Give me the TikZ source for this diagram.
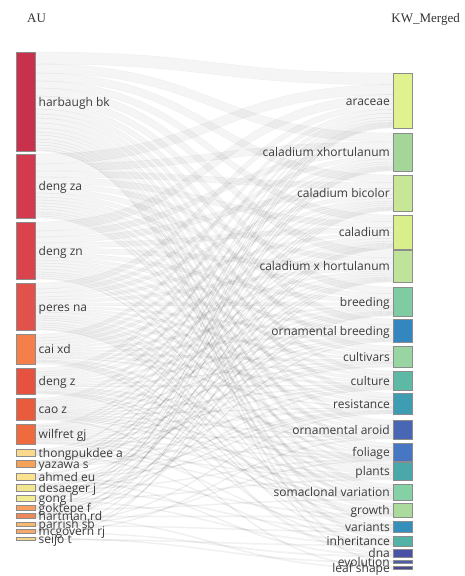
\documentclass[tikz,border=0pt]{standalone}
\usepackage{fontspec}
\setmainfont{Liberation Serif}
\newfontfamily\labfont{Open Sans}
\pgfdeclarelayer{bg}
\pgfdeclarelayer{paper}
\pgfsetlayers{paper,bg,main}
% left colours
\definecolor{lc1}{HTML}{C9304B}\definecolor{lc2}{HTML}{D43A4E}\definecolor{lc3}{HTML}{DB434C}
\definecolor{lc4}{HTML}{E3524A}\definecolor{lc5}{HTML}{F47F4B}\definecolor{lc6}{HTML}{E65140}
\definecolor{lc7}{HTML}{EA5A3C}\definecolor{lc8}{HTML}{EF6B3E}\definecolor{lc9}{HTML}{FBD98C}
\definecolor{lc10}{HTML}{F7A05A}\definecolor{lc11}{HTML}{FAE290}\definecolor{lc12}{HTML}{F2E68E}
\definecolor{lc13}{HTML}{F3EB92}\definecolor{lc14}{HTML}{F89E5E}\definecolor{lc15}{HTML}{EF8858}
\definecolor{lc16}{HTML}{F8B96E}\definecolor{lc17}{HTML}{F5A86C}\definecolor{lc18}{HTML}{F4D48A}
% right colours
\definecolor{rc1}{HTML}{E0F290}\definecolor{rc2}{HTML}{A4D69A}\definecolor{rc3}{HTML}{C8E796}
\definecolor{rc4}{HTML}{D9EF8C}\definecolor{rc5}{HTML}{BFE39A}\definecolor{rc6}{HTML}{80CCA2}
\definecolor{rc7}{HTML}{3387BE}\definecolor{rc8}{HTML}{98D5A2}\definecolor{rc9}{HTML}{5EB9A4}
\definecolor{rc10}{HTML}{3F9DB3}\definecolor{rc11}{HTML}{4966B5}\definecolor{rc12}{HTML}{4777C2}
\definecolor{rc13}{HTML}{4BA8AA}\definecolor{rc14}{HTML}{86D0A5}\definecolor{rc15}{HTML}{AADB9C}
\definecolor{rc16}{HTML}{3490BA}\definecolor{rc17}{HTML}{53B2A6}\definecolor{rc18}{HTML}{4A52A6}
\definecolor{rc19}{HTML}{4D5CA8}\definecolor{rc20}{HTML}{4A4A8E}
\definecolor{labgray}{HTML}{3C3C3C}
\tikzset{
  barbox/.style={rectangle, draw=black!45, line width=0.5pt, inner sep=0pt, outer sep=0pt, minimum width=19pt},
  lab/.style={inner sep=0pt, text=labgray, font=\labfont\fontsize{12}{13}\selectfont},
  head/.style={inner sep=0pt, text=black!80, font=\fontsize{13}{14}\selectfont},
  flowfill/.style={fill=black, fill opacity=0.04, draw=black, draw opacity=0.05, line width=0.3pt}
}
\newcommand\Lnode[5]{%
  \expandafter\gdef\csname Ltop#1\endcsname{#2}%
  \expandafter\gdef\csname Loff#1\endcsname{0}%
  \node[barbox, fill=#4, minimum height={(#3-#2)*1pt}, anchor=north west] (L#1) at (16.5,#2) {};
  \node[lab, anchor=base west] (LT#1) at (38.5,{(#2+#3)/2+4.5}) {#5};
}
\newcommand\Rnode[6]{%
  \expandafter\gdef\csname Rtop#1\endcsname{#2}%
  \expandafter\gdef\csname Roff#1\endcsname{0}%
  \pgfmathsetmacro\fwS{(#3-#2)/#6}%
  \expandafter\xdef\csname Rsc#1\endcsname{\fwS}%
  \node[barbox, fill=#4, minimum height={(#3-#2)*1pt}, anchor=north west] (R#1) at (393,#2) {};
  \node[lab, anchor=base east] (RT#1) at (390,{(#2+#3)/2+4.5}) {#5};
}
\newcommand\flow[3]{%
  \edef\fwA{\csname Ltop#1\endcsname}\edef\fwB{\csname Loff#1\endcsname}%
  \pgfmathsetmacro\fya{\fwA+\fwB}\pgfmathsetmacro\fyb{\fya+#3}%
  \pgfmathsetmacro\fwN{\fwB+#3}\expandafter\xdef\csname Loff#1\endcsname{\fwN}%
  \edef\fwC{\csname Rtop#2\endcsname}\edef\fwD{\csname Roff#2\endcsname}\edef\fwE{\csname Rsc#2\endcsname}%
  \pgfmathsetmacro\fyc{\fwC+\fwD}\pgfmathsetmacro\fwW{#3*\fwE}\pgfmathsetmacro\fyd{\fyc+\fwW}%
  \pgfmathsetmacro\fwM{\fwD+\fwW}\expandafter\xdef\csname Roff#2\endcsname{\fwM}%
  \begin{pgfonlayer}{bg}
  \filldraw[flowfill] (36,\fya) .. controls (214.5,\fya) and (214.5,\fyc) .. (393,\fyc) -- (393,\fyd) .. controls (214.5,\fyd) and (214.5,\fyb) .. (36,\fyb) -- cycle;
  \end{pgfonlayer}
}
\newcommand\flows[2]{\foreach \rr/\ww in {#2}{\flow{#1}{\rr}{\ww}}}
\begin{document}
\begin{tikzpicture}[x=1pt,y=-1pt]
\begin{pgfonlayer}{paper}
\fill[white] (0,0) rectangle (464,576);
\end{pgfonlayer}
\useasboundingbox (0,0) rectangle (464,576);
\node[head, anchor=base west] (hAU) at (27,22.5) {AU};
\node[head, anchor=base east] (hKW) at (460,22.5) {KW\_Merged};
% left nodes
\Lnode{1}{52}{151}{lc1}{harbaugh bk}
\Lnode{2}{154}{218}{lc2}{deng za}
\Lnode{3}{222}{279}{lc3}{deng zn}
\Lnode{4}{283}{330}{lc4}{peres na}
\Lnode{5}{334}{364}{lc5}{cai xd}
\Lnode{6}{368}{394}{lc6}{deng z}
\Lnode{7}{398}{420}{lc7}{cao z}
\Lnode{8}{424}{444}{lc8}{wilfret gj}
\Lnode{9}{449}{456}{lc9}{thongpukdee a}
\Lnode{10}{460}{467}{lc10}{yazawa s}
\Lnode{11}{473}{480}{lc11}{ahmed eu}
\Lnode{12}{484}{491}{lc12}{desaeger j}
\Lnode{13}{495}{501}{lc13}{gong l}
\Lnode{14}{505}{510}{lc14}{goktepe f}
\Lnode{15}{513}{518}{lc15}{hartman rd}
\Lnode{16}{522}{526}{lc16}{parrish sb}
\Lnode{17}{529}{533}{lc17}{mcgovern rj}
\Lnode{18}{537}{540}{lc18}{seijo t}
% right nodes
\Rnode{1}{73}{128}{rc1}{araceae}{56}
\Rnode{2}{133}{171}{rc2}{caladium xhortulanum}{38}
\Rnode{3}{175}{211}{rc3}{caladium bicolor}{37}
\Rnode{4}{215}{249}{rc4}{caladium}{35}
\Rnode{5}{250}{282}{rc5}{caladium x hortulanum}{32}
\Rnode{6}{287}{316}{rc6}{breeding}{30}
\Rnode{7}{319}{342}{rc7}{ornamental breeding}{23}
\Rnode{8}{346}{367}{rc8}{cultivars}{20}
\Rnode{9}{371}{390}{rc9}{culture}{19}
\Rnode{10}{393}{414}{rc10}{resistance}{23}
\Rnode{11}{420}{439}{rc11}{ornamental aroid}{19}
\Rnode{12}{443}{461}{rc12}{foliage}{17}
\Rnode{13}{462}{480}{rc13}{plants}{17}
\Rnode{14}{484}{500}{rc14}{somaclonal variation}{15}
\Rnode{15}{503}{517}{rc15}{growth}{11}
\Rnode{16}{521}{532}{rc16}{variants}{10}
\Rnode{17}{536}{546}{rc17}{inheritance}{8}
\Rnode{18}{549}{557}{rc18}{dna}{6}
\Rnode{19}{560.5}{563}{rc19}{evolution}{2}
\Rnode{20}{566.5}{569}{rc20}{leaf shape}{2}
% flows
\flows{1}{1/12,2/9,3/8,4/7,5/8,6/7,7/6,8/5,9/4,10/5,11/5,12/4,13/3,14/4,15/3,16/3,17/3,18/2,19/1}
\flows{2}{1/10,2/7,3/6,4/6,5/5,6/5,7/4,8/3,9/3,10/3,11/3,12/3,13/2,14/2,15/2}
\flows{3}{1/9,2/6,3/6,4/5,5/5,6/4,7/3,8/3,9/3,10/3,11/3,12/2,13/2,14/2,16/1}
\flows{4}{1/6,2/4,3/4,4/3,5/3,6/3,7/2,8/2,9/2,10/4,11/2,12/2,13/3,14/2,15/2,16/2,17/1}
\flows{5}{1/4,2/3,3/3,4/3,5/2,6/2,7/2,8/2,9/2,10/1,13/2,15/1,16/1,18/2}
\flows{6}{1/4,2/2,3/2,4/3,5/2,6/2,7/2,8/1,9/1,11/2,12/2,14/1,15/1,17/1}
\flows{7}{1/3,2/2,3/2,4/2,5/2,6/2,7/1,8/1,9/1,10/1,11/1,12/1,13/1,14/1,20/1}
\flows{8}{1/2,2/1,3/2,4/1,5/1,6/1,7/1,8/2,9/1,10/2,11/1,12/1,13/2,14/1,16/1}
\flows{9}{1/1,4/1,6/1,8/1,13/1,14/1,17/1}
\flows{10}{1/1,2/1,3/1,5/1,7/1,9/1,10/1}
\flows{11}{1/1,2/1,6/1,10/1,11/1,15/1,18/1}
\flows{12}{3/1,4/1,5/1,9/1,10/1,12/1,16/1}
\flows{13}{1/1,2/1,4/1,6/1,13/1,17/1}
\flows{14}{1/1,3/1,5/1,7/1,14/1}
\flows{15}{2/1,4/1,6/1,15/1,20/1}
\flows{16}{1/1,10/1,12/1,16/1}
\flows{17}{3/1,5/1,11/1,18/1}
\flows{18}{4/1,19/1,17/1}
\end{tikzpicture}
\end{document}
